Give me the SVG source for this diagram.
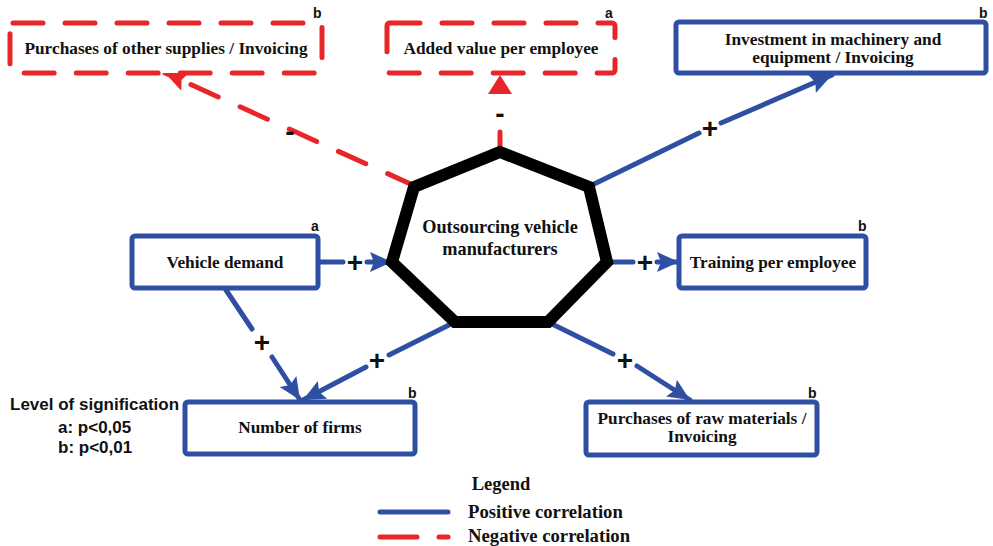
<svg xmlns="http://www.w3.org/2000/svg" width="993" height="546" viewBox="0 0 993 546">
<style>
.lbl{font-family:"Liberation Serif","Times New Roman",serif;font-weight:bold;font-size:17.3px;fill:#111;text-anchor:middle;}
.hub{font-size:18.3px;}
.leg{font-size:18.7px;text-anchor:start;}
.sig{font-family:"Liberation Sans",Arial,sans-serif;font-weight:bold;font-size:14px;fill:#111;}
.sign{font-family:"Liberation Sans",Arial,sans-serif;font-weight:bold;font-size:28px;fill:#111;text-anchor:middle;}
.lev{font-family:"Liberation Sans",Arial,sans-serif;font-weight:bold;font-size:17px;fill:#111;}
.pos{fill:#fff;stroke:#2f4fa2;stroke-width:5;}
.neg{fill:#fff;stroke:#e8262a;stroke-width:5;stroke-dasharray:30 22;stroke-linecap:round;}
.bl{stroke:#2f4fa2;stroke-width:5;fill:none;stroke-linecap:round;}
.rd{stroke:#e8262a;stroke-width:5;fill:none;stroke-linecap:round;}
</style>
<defs>
<marker id="ab" markerUnits="userSpaceOnUse" markerWidth="24" markerHeight="22" refX="22" refY="10" orient="auto" viewBox="0 0 24 20">
<path d="M0,0 L22,10 L0,20 L4,10 Z" fill="#2f4fa2"/>
</marker>
<marker id="ar" markerUnits="userSpaceOnUse" markerWidth="24" markerHeight="22" refX="22" refY="10" orient="auto" viewBox="0 0 24 20">
<path d="M0,0 L22,10 L0,20 L4,10 Z" fill="#e8262a"/>
</marker>
</defs>
<rect width="993" height="546" fill="#fff"/>

<g id="connectors">
<path class="rd" d="M415,186 L172,76" stroke-dasharray="30 24"/>
<path class="rd" d="M172,76 L165,73" marker-end="url(#ar)"/>
<path class="rd" d="M500,152 L500,132"/>
<polygon points="500,75 488,94 512,94" fill="#e8262a"/>
<path class="bl" d="M590,186 L699,133"/>
<path class="bl" d="M721,123 L832,75" marker-end="url(#ab)"/>
<path class="bl" d="M318,262 L343,262"/>
<path class="bl" d="M367,262 L392,262" marker-end="url(#ab)"/>
<path class="bl" d="M608,262 L633,262"/>
<path class="bl" d="M657,262 L679,262" marker-end="url(#ab)"/>
<path class="bl" d="M226,290 L252,329"/>
<path class="bl" d="M272,357 L300,400" marker-end="url(#ab)"/>
<path class="bl" d="M455,322 L389,355"/>
<path class="bl" d="M366,367 L303,400" marker-end="url(#ab)"/>
<path class="bl" d="M548,322 L613,354"/>
<path class="bl" d="M637,366 L690,400" marker-end="url(#ab)"/>
<text class="sign" x="290" y="141">-</text>
<text class="sign" x="500" y="123">-</text>
<text class="sign" x="710" y="138">+</text>
<text class="sign" x="355" y="272">+</text>
<text class="sign" x="645" y="272">+</text>
<text class="sign" x="262" y="352">+</text>
<text class="sign" x="377" y="370">+</text>
<text class="sign" x="625" y="370">+</text>
</g>

<g id="hub">
<polygon points="500,152 589,187 607,262 548,322 455,322 392,262 414,187" fill="#fff" stroke="#000" stroke-width="12" stroke-linejoin="miter"/>
<text class="lbl hub" x="500" y="233">Outsourcing vehicle</text>
<text class="lbl hub" x="500" y="255">manufacturers</text>
</g>

<g id="n-supplies">
<rect class="neg" x="10" y="23" width="312" height="50" rx="3"/>
<text class="lbl" x="166" y="54">Purchases of other supplies / Invoicing</text>
<text class="sig" x="313" y="18">b</text>
</g>

<g id="n-added">
<rect class="neg" x="387" y="23" width="228" height="50" rx="3"/>
<text class="lbl" x="501" y="54">Added value per employee</text>
<text class="sig" x="605" y="18">a</text>
</g>

<g id="n-invest">
<rect class="pos" x="676" y="22" width="310" height="51" rx="3"/>
<text class="lbl" x="833" y="45">Investment in machinery and</text>
<text class="lbl" x="833" y="63">equipment / Invoicing</text>
<text class="sig" x="979" y="18">b</text>
</g>

<g id="n-demand">
<rect class="pos" x="132" y="236" width="186" height="52" rx="3"/>
<text class="lbl" x="225" y="268">Vehicle demand</text>
<text class="sig" x="311" y="231">a</text>
</g>

<g id="n-training">
<rect class="pos" x="679" y="236" width="187" height="52" rx="3"/>
<text class="lbl" x="773" y="268">Training per employee</text>
<text class="sig" x="858" y="231">b</text>
</g>

<g id="n-firms">
<rect class="pos" x="185" y="402" width="230" height="52" rx="3"/>
<text class="lbl" x="300" y="433">Number of firms</text>
<text class="sig" x="408" y="398">b</text>
</g>

<g id="n-raw">
<rect class="pos" x="586" y="402" width="231" height="53" rx="3"/>
<text class="lbl" x="702" y="424">Purchases of raw materials /</text>
<text class="lbl" x="702" y="442">Invoicing</text>
<text class="sig" x="808" y="398">b</text>
</g>

<g id="significance">
<text class="lev" x="10" y="410">Level of signification</text>
<text class="lev" x="58" y="433">a: p&lt;0,05</text>
<text class="lev" x="58" y="453">b: p&lt;0,01</text>
</g>

<g id="legend">
<text class="lbl" x="501" y="490" style="font-size:18.5px">Legend</text>
<line class="bl" x1="380" y1="512" x2="448" y2="512"/>
<text class="lbl leg" x="468" y="518">Positive correlation</text>
<line class="rd" x1="380" y1="537" x2="417" y2="537"/>
<line class="rd" x1="439" y1="537" x2="448" y2="537"/>
<text class="lbl leg" x="468" y="542">Negative correlation</text>
</g>
</svg>
